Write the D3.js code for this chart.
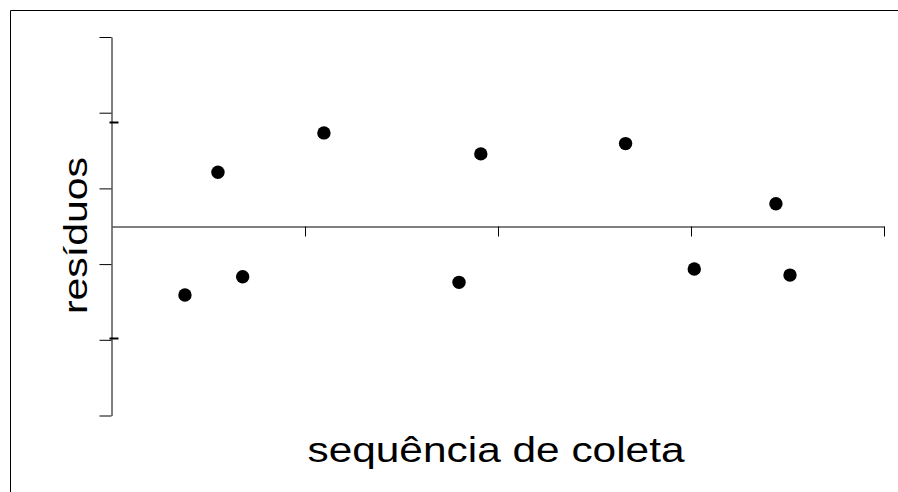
<!DOCTYPE html>
<html>
<head>
<meta charset="utf-8">
<script src="https://cdn.jsdelivr.net/npm/d3@7"></script>
<style>
  html, body { margin: 0; padding: 0; background: #fff; overflow: hidden; }
  svg { display: block; }
</style>
</head>
<body>
<svg id="chart" width="898" height="492"></svg>
<script>
// Residuals plotted in collection order
const seqValues = [0.378, 0.549, 0.677, 1.098, 1.798, 1.911, 2.661, 3.017, 3.440, 3.513];
const residuals = [-0.909, 0.714, -0.667, 1.233, -0.741, 0.956, 1.092, -0.565, 0.298, -0.645];
const xTicks = [1, 2, 3, 4];
const yTicks = [-2.5, -1.5, -0.5, 0.5, 1.5, 2.5];
const yMarks = [1.383, -1.482];
const xTitle = "sequência de coleta";
const yTitle = "resíduos";

const svg = d3.select("#chart");

// Outer frame: only the left and top edges fall inside the drawing
svg.append("path")
  .attr("d", "M10.5,600V10.5H1000")
  .attr("fill", "none").attr("stroke", "#000").attr("stroke-width", 1);

const x = d3.scaleLinear().domain([0, 4]).range([112, 884]);
const y = d3.scaleLinear().domain([-2.5, 2.5]).range([415.5, 37]);

// Vertical axis with outward ticks
const yAxis = d3.axisLeft(y).tickValues(yTicks).tickSize(12).tickSizeOuter(0).tickFormat("");
const gy = svg.append("g").attr("transform", "translate(111.5,0)").call(yAxis);
gy.selectAll("path, line").attr("stroke", "#000").attr("stroke-width", 1);

// Short marks on the inner side of the vertical axis
svg.append("g").selectAll("line").data(yMarks).join("line")
  .attr("x1", 109.5).attr("x2", 118.5)
  .attr("y1", d => Math.round(y(d)) + 0.5).attr("y2", d => Math.round(y(d)) + 0.5)
  .attr("stroke", "#000").attr("stroke-width", 2);

// Horizontal axis at residual zero
const xAxis = d3.axisBottom(x).tickValues(xTicks).tickSize(10).tickSizeOuter(0).tickFormat("");
const gx = svg.append("g").attr("transform", `translate(0,${Math.round(y(0)) + 0.5})`).call(xAxis);
gx.selectAll("path, line").attr("stroke", "#000").attr("stroke-width", 1);

// Points
svg.append("g").selectAll("circle")
  .data(seqValues.map((s, i) => [s, residuals[i]]))
  .join("circle")
  .attr("cx", d => x(d[0]))
  .attr("cy", d => y(d[1]))
  .attr("r", 6.7)
  .attr("fill", "#000");

// Axis titles
svg.append("text")
  .attr("transform", "translate(496,462) scale(1,0.81)")
  .attr("text-anchor", "middle")
  .attr("font-family", "Liberation Sans, Arial, sans-serif")
  .attr("font-size", 42.4)
  .attr("fill", "#000")
  .text(xTitle);

svg.append("text")
  .attr("transform", "translate(86.5,235.5) scale(0.81,1) rotate(-90)")
  .attr("text-anchor", "middle")
  .attr("font-family", "Liberation Sans, Arial, sans-serif")
  .attr("font-size", 41)
  .attr("fill", "#000")
  .text(yTitle);
</script>
</body>
</html>
